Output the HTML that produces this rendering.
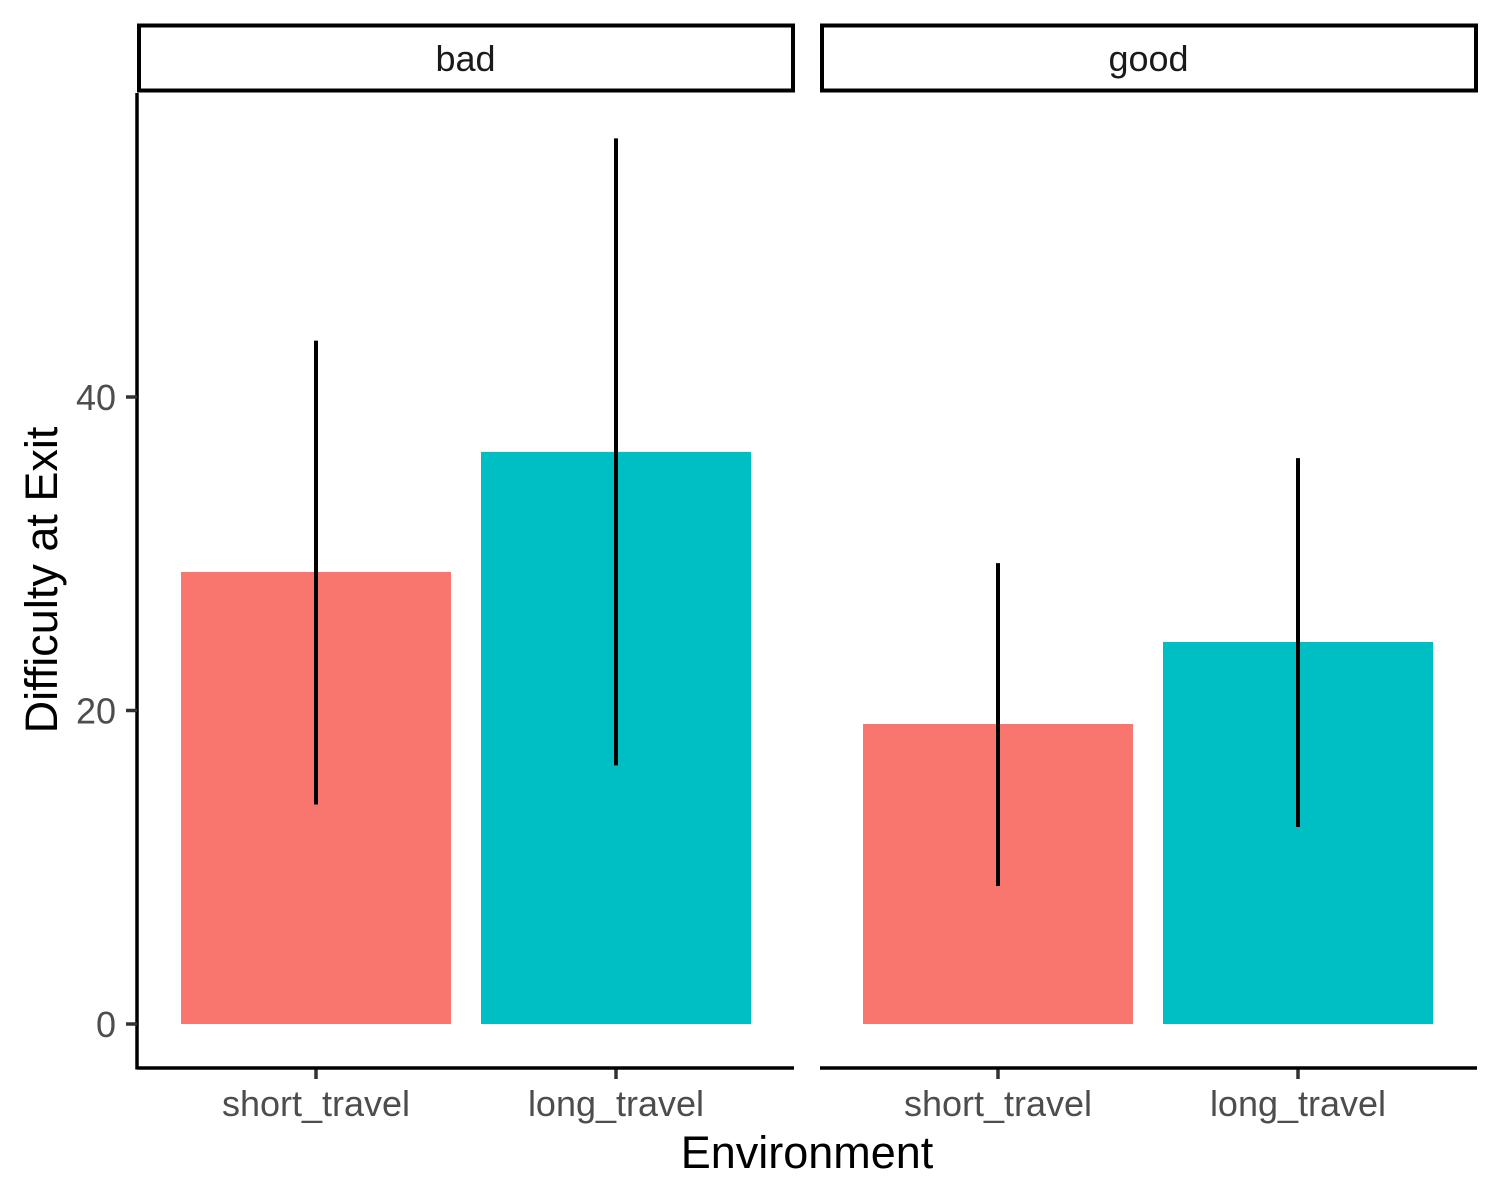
<!DOCTYPE html>
<html><head><meta charset="utf-8"><style>body{margin:0;background:#fff}svg{display:block;font-family:"Liberation Sans",sans-serif}</style></head>
<body>
<svg id="c" width="1500" height="1200" xmlns="http://www.w3.org/2000/svg"></svg>
<script>
const panels = ["bad", "good"];
const categories = ["short_travel", "long_travel"];
const means = [[28.84, 36.5], [19.14, 24.37]];
const lowers = [[14.0, 16.5], [8.8, 12.57]];
const uppers = [[43.6, 56.5], [29.4, 36.1]];
const yTicks = [0, 20, 40];
const colors = ["#F8766D", "#00BFC4"];

const svg = document.getElementById('c');
const NS = "http://www.w3.org/2000/svg";
function mk(tag, attrs, name, parent) {
  const e = document.createElementNS(NS, tag);
  for (const k in attrs) e.setAttribute(k, attrs[k]);
  
  
  (parent || svg).appendChild(e);
  return e;
}
const y = v => 1024 - v * 15.675;
const panelX = [137, 820], panelW = 657;
const x = (p, i) => panelX[p] + 179 - p + i * 300;

panels.forEach((pn, p) => {
  const g = mk('g', {}, 'panel-' + pn);
  mk('rect', {x: panelX[p] + 2, y: 25.5, width: panelW - 3, height: 65, fill: '#fff', stroke: '#000', 'stroke-width': 4}, 'strip-' + pn, g);
  const st = mk('text', {x: panelX[p] + panelW / 2, y: 71, 'text-anchor': 'middle', 'font-size': 36, fill: '#1a1a1a'}, 'strip-label-' + pn, g);
  st.textContent = pn;
  categories.forEach((c, i) => {
    mk('rect', {x: x(p, i) - 135, y: y(means[p][i]), width: 270, height: y(0) - y(means[p][i]), fill: colors[i]}, 'bar-' + pn + '-' + c, g);
    mk('line', {x1: x(p, i), x2: x(p, i), y1: y(uppers[p][i]), y2: y(lowers[p][i]), stroke: '#000', 'stroke-width': 4}, 'error-bar-' + pn + '-' + c, g);
    mk('line', {x1: x(p, i), x2: x(p, i), y1: 1068, y2: 1079, stroke: '#333', 'stroke-width': 3.5}, 'x-tick-' + pn + '-' + c, g);
    const t = mk('text', {x: x(p, i), y: 1116, 'text-anchor': 'middle', 'font-size': 36, fill: '#4d4d4d'}, 'x-tick-label-' + pn + '-' + c, g);
    t.textContent = c;
  });
  mk('line', {x1: panelX[p], x2: panelX[p] + panelW, y1: 1068, y2: 1068, stroke: '#000', 'stroke-width': 3.5}, 'x-axis-line-' + pn, g);
});
mk('line', {x1: 137, x2: 137, y1: 93, y2: 1069.5, stroke: '#000', 'stroke-width': 3.5}, 'y-axis-line');
yTicks.forEach(v => {
  mk('line', {x1: 126, x2: 137, y1: y(v), y2: y(v), stroke: '#333', 'stroke-width': 3.5}, 'y-tick-' + v);
  const t = mk('text', {x: 116, y: y(v) + 13, 'text-anchor': 'end', 'font-size': 36, fill: '#4d4d4d'}, 'y-tick-label-' + v);
  t.textContent = v;
});
const xt = mk('text', {x: 807, y: 1168, 'text-anchor': 'middle', 'font-size': 45, fill: '#000'}, 'x-axis-title');
xt.textContent = 'Environment';
const yt = mk('text', {x: 0, y: 0, 'text-anchor': 'middle', 'font-size': 45, fill: '#000', transform: 'translate(57,580) rotate(-90)'}, 'y-axis-title');
yt.textContent = 'Difficulty at Exit';
</script>
</body></html>
